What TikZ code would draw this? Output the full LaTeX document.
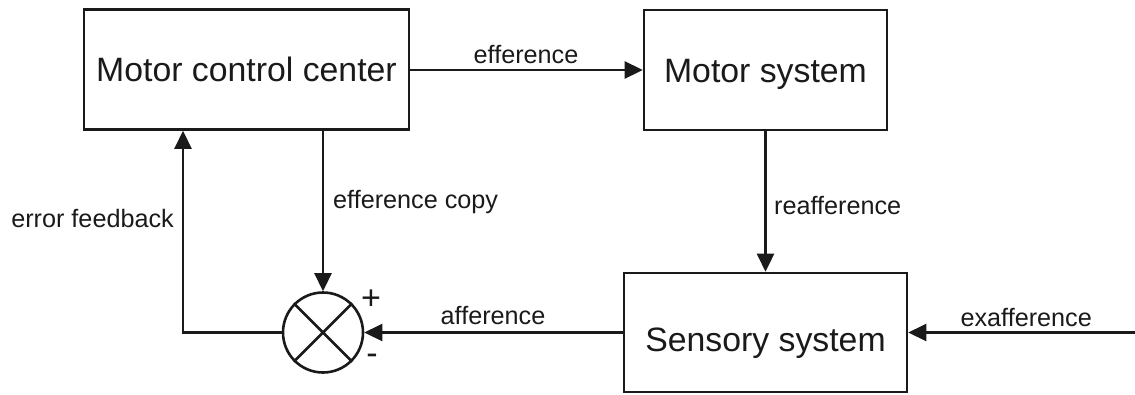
\documentclass[tikz,border=0pt]{standalone}
\usepackage{fontspec}
\setmainfont{Liberation Sans}
\usetikzlibrary{arrows.meta}
\definecolor{ink}{HTML}{1A1A1A}
\tikzset{
  blk/.style={draw=ink, line width=2.6pt, inner sep=0pt, text=ink,
    font=\fontsize{33.8}{36}\selectfont, text height=24pt, text depth=0pt},
  conn/.style={draw=ink, line width=2.6pt, -{Triangle[length=18pt,width=17pt]}},
  lbl/.style={text=ink, font=\fontsize{25.2}{28}\selectfont, inner sep=0pt},
  sgn/.style={text=ink, font=\fontsize{34}{36}\selectfont, inner sep=0pt}
}
\begin{document}
\begin{tikzpicture}[x=1pt,y=-1pt]
\useasboundingbox (0,0) rectangle (1135,394);
\node[blk, minimum width=325pt, minimum height=120pt] (mcc) at (246.5,69.5) {Motor control center};
\node[blk, minimum width=243pt, minimum height=120pt] (ms) at (765.5,70) {Motor system};
\node[blk, minimum width=283pt, minimum height=119pt, text height=37pt] (ss) at (765.5,332.5) {Sensory system};
\node[draw=ink, line width=2.6pt, circle, minimum size=80pt, inner sep=0pt] (sum) at (323,332.5) {};
\draw[draw=ink, line width=2.6pt] (sum.45) -- (sum.225) (sum.135) -- (sum.315);
\coordinate (fb) at (183,332.5);
\coordinate (ext) at (1135,332.5);
% connectors
\draw[conn] (mcc.east |- ms.west) -- (ms.west);
\draw[conn] (ms.south) -- (ss.north);
\draw[conn] (mcc.south -| sum.north) -- (sum.north);
\draw[conn] (ss.west) -- (sum.east);
\draw[conn] (ext) -- (ss.east);
\draw[conn] (sum.west) -- (fb) -- (mcc.south -| fb);
% labels
\node[lbl, anchor=base] (lef) at (526,63) {efference};
\node[lbl, anchor=base] (laf) at (493,324) {afference};
\node[lbl, anchor=base west] (lre) at (774,214) {reafference};
\node[lbl, anchor=base west] (lec) at (333,208) {efference copy};
\node[lbl, anchor=base east] (ler) at (174,227) {error feedback};
\node[lbl, anchor=base east] (lex) at (1092,326) {exafference};
\node[sgn] (plus) at (371,300) {+};
\node[sgn] (minus) at (372,359) {-};
\end{tikzpicture}
\end{document}
